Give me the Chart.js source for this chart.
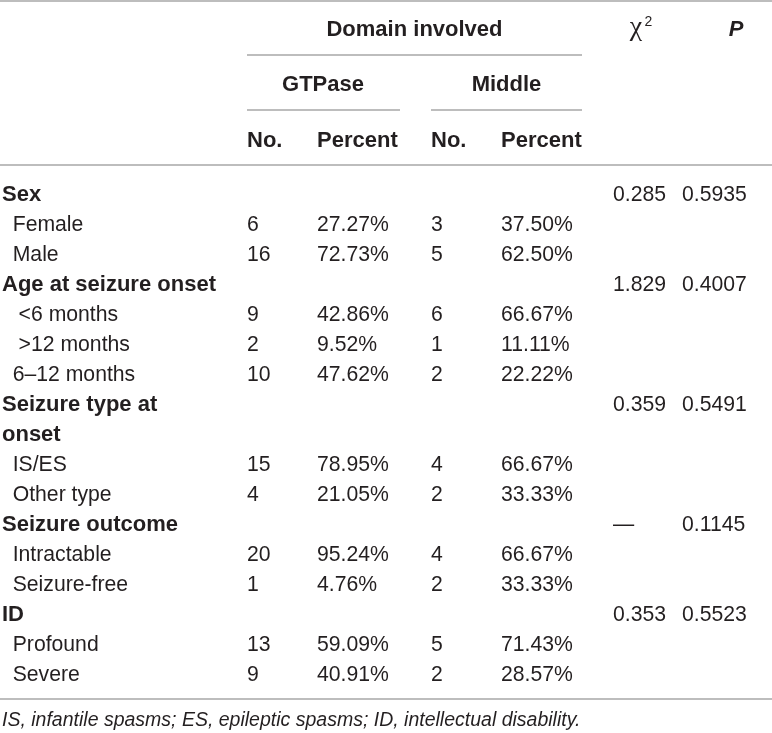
<!DOCTYPE html>
<html>
<head>
<meta charset="utf-8">
<script src="https://cdn.jsdelivr.net/npm/chart.js@4.4.0/dist/chart.umd.min.js"></script>
<style>
  html, body { margin: 0; padding: 0; background: #fff; }
  #wrap { width: 772px; height: 733px; position: relative; }
</style>
</head>
<body>
<div id="wrap"><canvas id="myChart"></canvas></div>
<script>
// rows of the table body (a leading space is kept where the source has one)
const rowLabels = [
    "Sex", "Female", "Male",
    "Age at seizure onset", " <6 months", " >12 months", "6–12 months",
    "Seizure type at", "onset", "IS/ES", "Other type",
    "Seizure outcome", "Intractable", "Seizure-free",
    "ID", "Profound", "Severe"
];
const rowIsGroup = [1, 0, 0, 1, 0, 0, 0, 1, 1, 0, 0, 1, 0, 0, 1, 0, 0];

const gtpaseNo  = [null, 6, 16, null, 9, 2, 10, null, null, 15, 4, null, 20, 1, null, 13, 9];
const gtpasePct = [null, 27.27, 72.73, null, 42.86, 9.52, 47.62, null, null, 78.95, 21.05, null, 95.24, 4.76, null, 59.09, 40.91];
const middleNo  = [null, 3, 5, null, 6, 1, 2, null, null, 4, 2, null, 4, 2, null, 5, 2];
const middlePct = [null, 37.50, 62.50, null, 66.67, 11.11, 22.22, null, null, 66.67, 33.33, null, 66.67, 33.33, null, 71.43, 28.57];
const chiSquare = ["0.285", null, null, "1.829", null, null, null, "0.359", null, null, null, "—", null, null, "0.353", null, null];
const pValues   = ["0.5935", null, null, "0.4007", null, null, null, "0.5491", null, null, null, "0.1145", null, null, "0.5523", null, null];

const footnote = "IS, infantile spasms; ES, epileptic spasms; ID, intellectual disability.";

// layout (x in scale units of a 0..772 linear axis)
const colX = { label: 2, indent: 12.7, gNo: 247, gPct: 317, mNo: 431, mPct: 501, chi: 613, p: 682 };
const FONT = '"Liberation Sans", Arial, Helvetica, sans-serif';
const INK = "#231f20";
const RULE = "#a7a7a7";

const fmtPct = v => v == null ? "" : v.toFixed(2) + "%";

const tablePlugin = {
    id: "tableText",
    afterDraw(chart) {
        const ctx = chart.ctx;
        const x = chart.scales.x;
        const y = chart.scales.y;
        const top = chart.chartArea.top;
        const X = v => x.getPixelForValue(v);

        ctx.save();
        ctx.fillStyle = INK;
        ctx.textBaseline = "alphabetic";

        function rule(x0, x1, py) {
            ctx.beginPath();
            ctx.strokeStyle = RULE;
            ctx.lineWidth = 1.5;
            ctx.moveTo(X(x0), py);
            ctx.lineTo(X(x1), py);
            ctx.stroke();
        }
        function text(s, px, py, font, align) {
            ctx.font = font;
            ctx.textAlign = align || "left";
            ctx.fillText(s, px, py + 7.5);
        }

        const bold = "bold 22px " + FONT;
        const reg = "21.2px " + FONT;

        // header
        const hy1 = top - 150, hy2 = top - 95, hy3 = top - 39;
        rule(0, 772, 1);
        text("Domain involved", X(414.5), hy1, bold, "center");
        rule(247, 582, top - 123);
        text("GTPase", X(323), hy2, bold, "center");
        text("Middle", X(506.5), hy2, bold, "center");
        rule(247, 400, top - 68);
        rule(431, 582, top - 68);
        text("No.", X(colX.gNo), hy3, bold);
        text("Percent", X(colX.gPct), hy3, bold);
        text("No.", X(colX.mNo), hy3, bold);
        text("Percent", X(colX.mPct), hy3, bold);

        // chi-square header with superscript
        ctx.textAlign = "center";
        ctx.font = '28px "Liberation Serif", serif';
        ctx.fillText("χ", X(636), hy1 + 7);
        ctx.textAlign = "left";
        ctx.font = "14px " + FONT;
        ctx.fillText("2", X(644.5), hy1 - 2);
        text("P", X(736), hy1, "italic bold 22px " + FONT, "center");
        rule(0, 772, top - 13);

        // body
        rowLabels.forEach((lab, i) => {
            const py = y.getPixelForValue(i);
            if (rowIsGroup[i]) {
                text(lab, X(colX.label), py, bold);
            } else {
                text(lab, X(colX.indent), py, reg);
            }
            if (gtpaseNo[i] != null) text(String(gtpaseNo[i]), X(colX.gNo), py, reg);
            if (gtpasePct[i] != null) text(fmtPct(gtpasePct[i]), X(colX.gPct), py, reg);
            if (middleNo[i] != null) text(String(middleNo[i]), X(colX.mNo), py, reg);
            if (middlePct[i] != null) text(fmtPct(middlePct[i]), X(colX.mPct), py, reg);
            if (chiSquare[i] != null) text(chiSquare[i], X(colX.chi), py, reg);
            if (pValues[i] != null) text(pValues[i], X(colX.p), py, reg);
        });

        const bottom = chart.chartArea.bottom;
        rule(0, 772, bottom + 11);
        text(footnote, X(colX.label), bottom + 30, "italic 19.5px " + FONT);
        ctx.restore();
    }
};

new Chart("myChart", {
    type: "bar",
    data: {
        labels: rowLabels,
        datasets: []
    },
    options: {
        responsive: true,
        maintainAspectRatio: false,
        animation: false,
        indexAxis: "y",
        layout: { padding: { top: 178, bottom: 45, left: 0, right: 0 } },
        plugins: { legend: { display: false }, tooltip: { enabled: false } },
        scales: {
            x: { type: "linear", min: 0, max: 772, display: false },
            y: { type: "category", offset: true, display: false }
        }
    },
    plugins: [tablePlugin]
});
</script>
</body>
</html>
